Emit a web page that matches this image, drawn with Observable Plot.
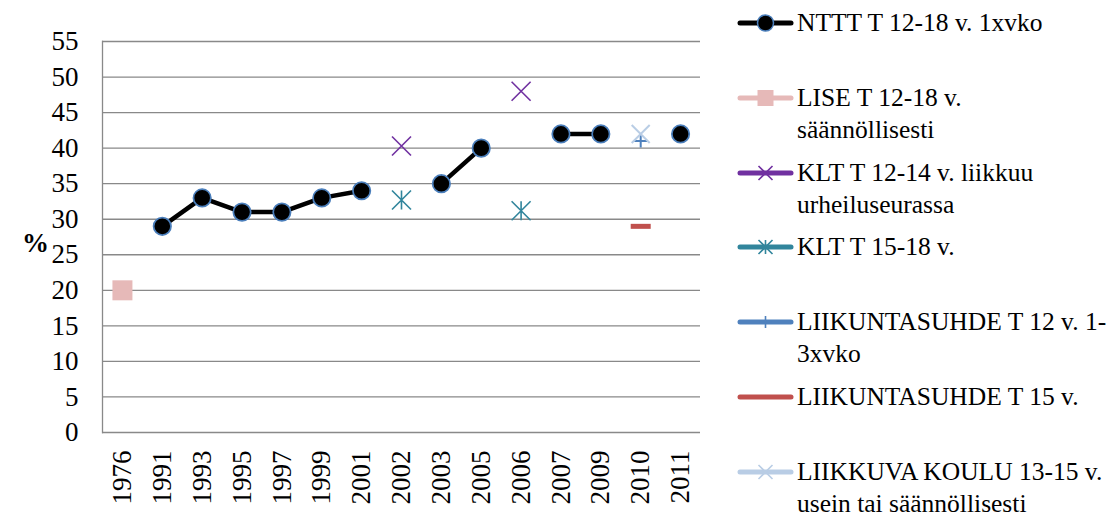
<!DOCTYPE html>
<html><head><meta charset="utf-8">
<script src="https://cdn.jsdelivr.net/npm/d3@7"></script>
<script src="https://cdn.jsdelivr.net/npm/@observablehq/plot@0.6"></script>
<style>
body{margin:0;background:#fff;font-family:"Liberation Serif",serif;}
#wrap{position:relative;width:1110px;height:517px;overflow:hidden;background:#fff}
#chart{position:absolute;left:0;top:0}
.leg{position:absolute;left:737px;display:flex;align-items:flex-start;color:#000}
.leg svg{flex:none}
.leg span{margin-left:3px;font-size:25.5px;line-height:32px;white-space:pre}
</style></head><body><div id="wrap"><div id="chart"></div><div id="legend"></div></div>
<script>
// ---- data ----
const years = ["1976","1991","1993","1995","1997","1999","2001","2002","2003","2005","2006","2007","2009","2010","2011"];
const yTicks = [0,5,10,15,20,25,30,35,40,45,50,55];

const ntttYears  = ["1991","1993","1995","1997","1999","2001","2002","2003","2005","2006","2007","2009","2010","2011"];
const ntttValues = [29, 33, 31, 31, 33, 34, null, 35, 40, null, 42, 42, null, 42];

const liseYears = ["1976"];           const liseValues = [20];
const klt1214Years = ["2002","2006"]; const klt1214Values = [40.3, 48];
const klt1518Years = ["2002","2006"]; const klt1518Values = [32.7, 31.2];
const ls12Years = ["2010"];           const ls12Values = [41];
const ls15Years = ["2010"];           const ls15Values = [29];
const lkYears = ["2010"];             const lkValues = [42];

const seriesNames = [
  "NTTT T 12-18 v. 1xvko",
  "LISE T 12-18 v.\nsäännöllisesti",
  "KLT T 12-14 v. liikkuu\nurheiluseurassa",
  "KLT T 15-18 v.",
  "LIIKUNTASUHDE T 12 v. 1-\n3xvko",
  "LIIKUNTASUHDE T 15 v.",
  "LIIKKUVA KOULU 13-15 v.\nusein tai säännöllisesti"
];
const seriesColors = ["#000000","#E6B9B8","#7030A0","#31859C","#4F81BD","#C0504D","#B9CDE5"];

// ---- symbols ----
const sym = f => ({draw(c, size){ const r = Math.sqrt(size/Math.PI); f(c, r); }});
const circleSym = sym((c,r)=>{c.moveTo(r,0);c.arc(0,0,r,0,2*Math.PI);});
const squareSym = sym((c,r)=>{c.rect(-r,-r,2*r,2*r);});
const timesSym  = sym((c,r)=>{c.moveTo(-r,-r);c.lineTo(r,r);c.moveTo(-r,r);c.lineTo(r,-r);});
const starSym   = sym((c,r)=>{c.moveTo(-r,-r);c.lineTo(r,r);c.moveTo(-r,r);c.lineTo(r,-r);c.moveTo(0,-r);c.lineTo(0,r);});
const plusSym   = sym((c,r)=>{c.moveTo(-r,0);c.lineTo(r,0);c.moveTo(0,-r);c.lineTo(0,r);});
const dashSym   = sym((c,r)=>{c.moveTo(-r,0);c.lineTo(r,0);});

const toRows = (xs, vs) => xs.map((x,i)=>({x, y: vs[i]}));
const nttt = toRows(ntttYears, ntttValues);
const grid = "#898989";

const plot = Plot.plot({
  width: 720, height: 517,
  marginLeft: 102, marginRight: 20, marginTop: 41, marginBottom: 85,
  style: {fontFamily: "'Liberation Serif', serif", fontSize: "27px", color: "#000", background: "transparent"},
  x: {type: "point", domain: years, padding: 0.5, round: false, label: null},
  y: {domain: [0, 55], label: null},
  marks: [
    Plot.ruleY(yTicks, {stroke: grid, strokeWidth: 1.3}),
    Plot.frame({anchor: "left", stroke: grid, strokeWidth: 1.3}),
    Plot.axisY({ticks: yTicks, tickSize: 0, tickPadding: 24, label: null, fill: "#000", fontSize: 27}),
    Plot.axisX({tickRotate: -90, tickSize: 0, tickPadding: 18, label: null, fill: "#000", fontSize: 27}),
    Plot.text(["%"], {frameAnchor: "left", dx: -67, dy: 6, textAnchor: "middle", fontWeight: "bold", fontSize: 27, fill: "#000"}),
    Plot.line(nttt, {x: "x", y: "y", stroke: seriesColors[0], strokeWidth: 4.5}),
    Plot.dot(nttt.filter(d => d.y != null), {x: "x", y: "y", r: 8.7, symbol: circleSym, fill: "#000", stroke: "#4A7EBB", strokeWidth: 1.75}),
    Plot.dot(toRows(liseYears, liseValues), {x: "x", y: "y", r: 10, symbol: squareSym, fill: seriesColors[1], stroke: "none"}),
    Plot.dot(toRows(klt1214Years, klt1214Values), {x: "x", y: "y", r: 9.5, symbol: timesSym, fill: "none", stroke: seriesColors[2], strokeWidth: 1.6}),
    Plot.dot(toRows(klt1518Years, klt1518Values), {x: "x", y: "y", r: 9.5, symbol: starSym, fill: "none", stroke: seriesColors[3], strokeWidth: 1.6}),
    Plot.dot(toRows(ls12Years, ls12Values), {x: "x", y: "y", r: 6.5, symbol: plusSym, fill: "none", stroke: seriesColors[4], strokeWidth: 2}),
    Plot.dot(toRows(ls15Years, ls15Values), {x: "x", y: "y", r: 10, symbol: dashSym, fill: "none", stroke: seriesColors[5], strokeWidth: 5, strokeLinecap: "butt"}),
    Plot.dot(toRows(lkYears, lkValues), {x: "x", y: "y", r: 9, symbol: timesSym, fill: "none", stroke: seriesColors[6], strokeWidth: 2})
  ]
});
document.getElementById("chart").append(plot);

// ---- legend ----
const legSyms = [
  {s: circleSym, r: 8, fill: "#000", stroke: "#4A7EBB", sw: 1.5},
  {s: squareSym, r: 8, fill: seriesColors[1], stroke: "none", sw: 0},
  {s: timesSym, r: 7, fill: "none", stroke: seriesColors[2], sw: 1.6},
  {s: starSym, r: 7, fill: "none", stroke: seriesColors[3], sw: 1.6},
  {s: plusSym, r: 6, fill: "none", stroke: seriesColors[4], sw: 1.6},
  null,
  {s: timesSym, r: 7, fill: "none", stroke: seriesColors[6], sw: 1.6}
];
const legend = document.getElementById("legend");
seriesNames.forEach((name, i) => {
  const div = document.createElement("div");
  div.className = "leg";
  div.style.top = (23 + i * 74.8 - 16) + "px";
  const svg = d3.create("svg").attr("width", 57).attr("height", 32);
  svg.append("line").attr("x1", 3).attr("x2", 54).attr("y1", 16).attr("y2", 16)
    .attr("stroke", seriesColors[i]).attr("stroke-width", 5).attr("stroke-linecap", "round");
  const m = legSyms[i];
  if (m) {
    const p = d3.path(); m.s.draw(p, Math.PI * m.r * m.r);
    svg.append("path").attr("d", p.toString()).attr("transform", "translate(28.5,16)")
      .attr("fill", m.fill).attr("stroke", m.stroke).attr("stroke-width", m.sw);
  }
  div.append(svg.node());
  const span = document.createElement("span");
  span.textContent = name;
  div.append(span);
  legend.append(div);
});
</script>
</body></html>
